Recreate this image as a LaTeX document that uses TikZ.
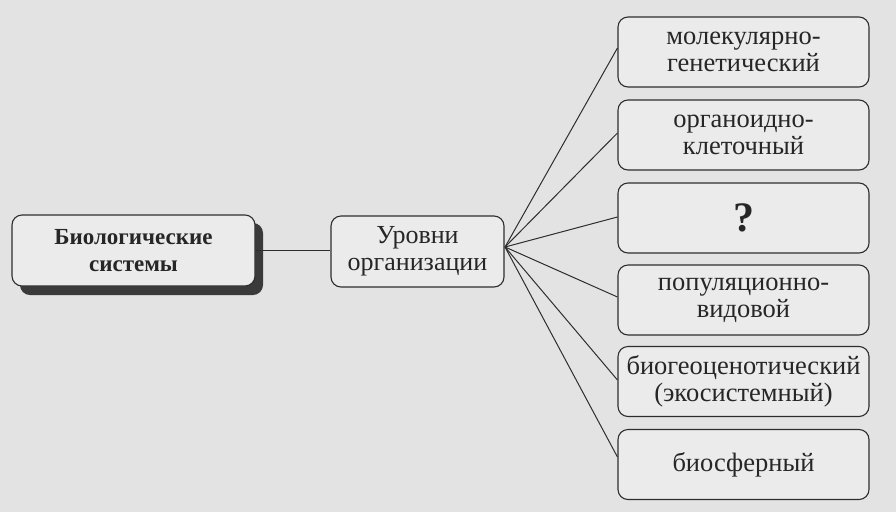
\documentclass[tikz,border=0pt]{standalone}
\usepackage{fontspec}
\setmainfont{Liberation Serif}
\definecolor{bg}{HTML}{E3E3E3}
\definecolor{boxfill}{HTML}{EBEBEB}
\definecolor{edge}{HTML}{2E2E2E}
\definecolor{shadowc}{HTML}{3A3A3A}
\begin{document}
\begin{tikzpicture}[x=1pt,y=-1pt,
  box/.style={draw=edge, line width=1.1pt, fill=boxfill, rounded corners=10pt,
    align=center, inner sep=0pt, text=black!85,
    font=\fontsize{26.5}{27}\selectfont},
  lvl/.style={box, minimum width=251pt, minimum height=70pt},
  link/.style={draw=edge, line width=1pt}]
\useasboundingbox (0,0) rectangle (896,512);
\fill[bg] (0,0) rectangle (896,512);
% shadow of left box
\fill[shadowc, rounded corners=10pt] (20,223) rectangle (263,295);
\node[box, minimum width=243pt, minimum height=71pt, font=\bfseries\fontsize{23}{27}\selectfont]
  (bio) at (133.5,250.5) {Биологические\\системы};
\node[box, minimum width=173pt, minimum height=71pt, font=\fontsize{26}{27}\selectfont] (urov) at (417.5,251.5) {Уровни\\организации};
\coordinate (fan) at (505,247);
\node[lvl] (l1) at (743.5,52) {молекулярно-\\генетический};
\node[lvl] (l2) at (743.5,135) {органоидно-\\клеточный};
\node[lvl, font=\bfseries\fontsize{42}{44}\selectfont] (l3) at (743.5,218) {?};
\node[lvl] (l4) at (743.5,300) {популяционно-\\видовой};
\node[lvl] (l5) at (743.5,381.5) {биогеоценотический\\(экосистемный)};
\node[lvl] (l6) at (743.5,464.5) {биосферный};
\draw[link] (bio.east) -- (urov.west |- bio.east);
\draw[link] (fan) -- (l1.west |- 0,48);
\draw[link] (fan) -- (l2.west |- 0,133);
\draw[link] (fan) -- (l3.west |- 0,217);
\draw[link] (fan) -- (l4.west |- 0,297);
\draw[link] (fan) -- (l5.west |- 0,380);
\draw[link] (fan) -- (l6.west |- 0,457);
\end{tikzpicture}
\end{document}
